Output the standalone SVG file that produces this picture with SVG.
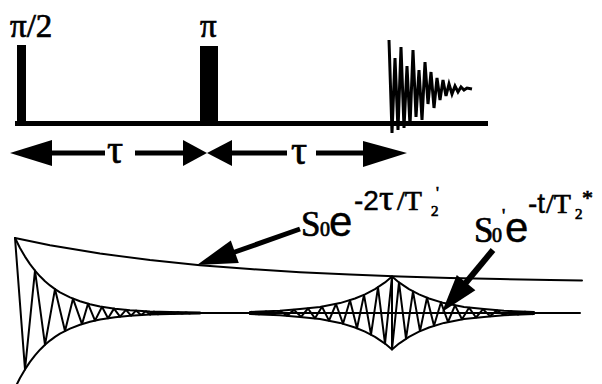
<svg xmlns="http://www.w3.org/2000/svg" width="602" height="384" viewBox="0 0 602 384">
<style>
text{font-family:"Liberation Serif","Times New Roman",Times,serif;fill:#000;stroke:#000;stroke-width:0.7}
text.sans{font-family:"Liberation Sans",Arial,Helvetica,sans-serif;stroke-width:0.4}
.thin{fill:none;stroke:#000;stroke-width:2;stroke-linejoin:round;stroke-linecap:round}
.fid{fill:none;stroke:#000;stroke-width:3;stroke-linejoin:miter;stroke-linecap:butt}
.shaft{stroke:#000;stroke-width:5;fill:none}
.head{fill:#000;stroke:none}
</style>
<rect width="602" height="384" fill="#fff"/>

<g id="pulse-sequence">
  <rect x="15" y="121" width="473" height="5" fill="#000"/>
  <rect x="17" y="45" width="9" height="81" fill="#000"/>
  <rect x="200" y="46" width="18" height="80" fill="#000"/>
  <text x="10" y="37" font-size="33">π/2</text>
  <text x="200" y="37" font-size="33">π</text>
  <polyline class="fid" points="389,40 392,133 395,58 398,130 401,47 404,128 407,66 410,126 413,50 416,117 419,70 422,120 425,62 428,104 431,72 434,108 437,78 440,100 443,80 446,96 449,84 452,94 455,86 458,92 461,87 464,90 467,88 472,89"/>
</g>

<g id="timing">
  <line class="shaft" x1="50" y1="153" x2="105" y2="153"/>
  <line class="shaft" x1="135" y1="153" x2="186" y2="153"/>
  <line class="shaft" x1="230" y1="153" x2="287" y2="153"/>
  <line class="shaft" x1="316" y1="153" x2="365" y2="153"/>
  <polygon class="head" points="10,153 52,140 52,166"/>
  <polygon class="head" points="207,153 183,140 183,166"/>
  <polygon class="head" points="207,153 232,140 232,166"/>
  <polygon class="head" points="407,153 363,141 363,167"/>
  <text x="107" y="163" font-size="40">τ</text>
  <text x="291" y="164" font-size="40">τ</text>
</g>

<g id="echo-signal">
  <polyline class="thin" points="15,238 50,245.2 100,253.6 150,260.1 200,265.2 250,269.1 300,272.2 350,274.6 400,276.4 450,277.9 500,279 550,279.9 582,280.4"/>
  <line class="thin" x1="150" y1="313" x2="580" y2="313"/>
  <polyline class="thin" points="15,238 20,248 25,256.6 30,264.1 35,270.6 40,276.3 45,281.2 50,285.4 55,289.1 60,292.3 70,297.4 80,301.3 90,304.2 100,306.4 115,308.7 130,310.2 150,311.4 170,312.1 200,312.6"/>
  <polyline class="thin" points="15,388 20,378 25,369.4 30,361.9 35,355.4 40,349.7 45,344.8 50,340.6 55,336.9 60,333.7 70,328.6 80,324.7 90,321.8 100,319.6 115,317.3 130,315.8 150,314.6 170,313.9 200,313.4"/>
  <polyline class="thin" points="15,238 25,369.4 35,270.6 45,344.8 55,289.1 65,331 73,298.7 82,324.1 88,303.7 95,320.6 102,306.8 108,318.3 114,308.6 120,316.7 126,309.9 131,315.7 136,310.6 141,315 146,311.2 150,314.6 154,311.6 158,314.3 162,311.9 166,314 170,312.1 174,313.8 178,312.3 182,313.6 186,312.5 190,313.4"/>
  <polyline class="thin" points="250,311.9 280,310.8 300,309 320,307 340,303.1 355,298.5 365,294.4 375,289.1 385,282.4 392,276.5 399,282.4 409,289.1 419,294.4 429,298.5 444,303.1 464,307 484,309 504,310.8 534,312"/>
  <polyline class="thin" points="250,314.1 280,315.2 300,317 320,319 340,322.9 355,327.5 365,331.6 375,336.9 385,343.6 392,349.5 399,343.6 409,336.9 419,331.6 429,327.5 444,322.9 464,319 484,317 504,315.2 534,314"/>
  <polyline class="thin" points="252,311.9 259,314.3 266,311.4 273,314.9 280,310.8 287,315.6 294,309.9 301,316.8 308,308.5 315,318.3 322,306.7 329,320.6 336,304 343,323.7 350,300.2 357,328.2 364,294.9 371,334.6 378,287.3 385,343.6 392,276.5 392,349.5 399,282.4 406,338.7 413,291.4 420,331.1 427,297.8 434,325.8 441,302.3 448,322 455,305.4 462,319.3 469,307.7 476,317.5 483,309.2 490,316.1 497,310.4 504,315.1 511,311.1 518,314.6 525,311.7 532,314.1"/>
</g>

<g id="connectors">
  <line stroke="#000" stroke-width="5" x1="300" y1="229" x2="232" y2="253"/>
  <polygon class="head" points="197,265 230.8,240.5 238.8,263.1"/>
  <line stroke="#000" stroke-width="6" x1="493" y1="250" x2="464" y2="285"/>
  <polygon class="head" points="442,312 456.8,275.1 475.4,290.3"/>
</g>

<g id="label-spin-echo">
  <text x="301" y="236" font-size="35">S</text>
  <text x="320" y="236" font-size="20">0</text>
  <text class="sans" x="329" y="236" font-size="42">e</text>
  <text class="sans" x="354" y="210" font-size="28">-2</text>
  <text x="379" y="210" font-size="36">τ</text>
  <text x="397" y="210" font-size="28">/T</text>
  <text x="431" y="216" font-size="15">2</text>
  <text x="436" y="198" font-size="16">'</text>
</g>

<g id="label-fid">
  <text x="474" y="242" font-size="35">S</text>
  <text x="492" y="242" font-size="20">0</text>
  <text x="502" y="222" font-size="18">'</text>
  <text class="sans" x="505" y="242" font-size="42">e</text>
  <text class="sans" x="528" y="213" font-size="28">-t</text>
  <text x="546" y="213" font-size="28">/T</text>
  <text x="575" y="219" font-size="15">2</text>
  <text x="582" y="205" font-size="22">*</text>
</g>
</svg>
